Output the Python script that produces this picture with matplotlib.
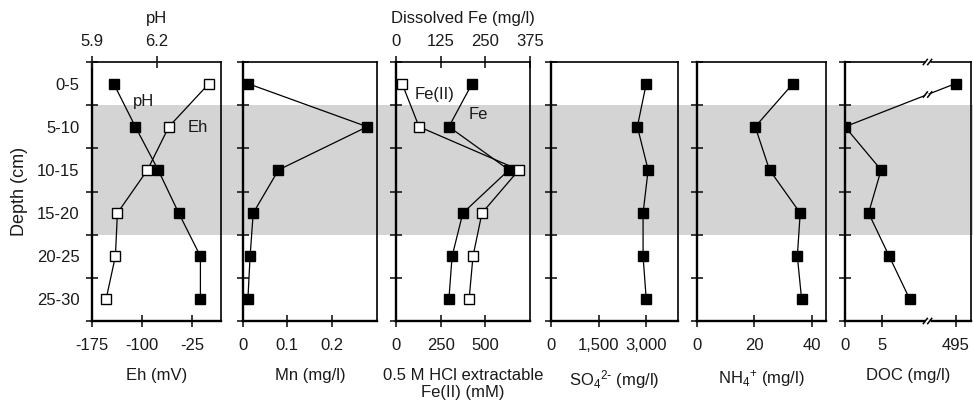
import numpy as np
import matplotlib.pyplot as plt
from matplotlib.patches import Rectangle
from matplotlib.ticker import FixedLocator, FuncFormatter, NullFormatter
import matplotlib.transforms as mtransforms

plt.rcParams['font.family'] = ['Liberation Sans', 'DejaVu Sans']
plt.rcParams['font.size'] = 12
plt.rcParams['text.color'] = '#1a1a1a'
plt.rcParams['xtick.color'] = '#1a1a1a'
plt.rcParams['ytick.color'] = '#1a1a1a'
plt.rcParams['axes.labelcolor'] = '#1a1a1a'
plt.rcParams['mathtext.default'] = 'regular'

# depth intervals (cm)
depth_top = np.array([0, 5, 10, 15, 20, 25])
depth_labels = ['0-5', '5-10', '10-15', '15-20', '20-25', '25-30']
depth_mid = depth_top + 2.5
shade_from, shade_to = 5, 20

ph = [6.00, 6.10, 6.205, 6.30, 6.40, 6.40]
eh = [0, -60, -92, -137, -140, -154]
mn = [0.011, 0.28, 0.08, 0.023, 0.016, 0.011]
fe_ii_hcl = [34, 129, 688, 481, 431, 409]
fe_diss = [213, 148, 316, 187, 157, 148]
so4 = [3000, 2720, 3060, 2900, 2900, 3000]
nh4 = [33.5, 20.3, 25.3, 36.0, 35.0, 36.5]
doc = [495, 0, 4.9, 3.2, 6.0, 8.8]

W, H = 973, 407
fig = plt.figure(figsize=(W / 100, H / 100), dpi=100)

top_px, bot_px = 62, 321
panels_px = [(92, 221), (243, 377), (396, 530), (551, 678), (697, 826), (845, 971)]

fmt = FuncFormatter(lambda v, p: f"{v:g}")
fmt_comma = FuncFormatter(lambda v, p: f"{v:,.0f}")
XLPAD = 11


def make_ax(x0, x1):
    ax = fig.add_axes([x0 / W, 1 - bot_px / H, (x1 - x0) / W, (bot_px - top_px) / H])
    ax.set_facecolor('none')
    ax.set_ylim(30, 0)
    ax.yaxis.set_major_locator(FixedLocator(np.arange(0, 31, 5)))
    ax.yaxis.set_major_formatter(NullFormatter())
    ax.tick_params(axis='both', which='major', direction='inout', length=8, width=1.2,
                   top=False, right=False, labelsize=12, pad=8)
    for s in ['left', 'bottom']:
        ax.spines[s].set_linewidth(1.7)
    for s in ['top', 'right']:
        ax.spines[s].set_linewidth(1.2)
    return ax


def make_twin(ax):
    t = ax.twiny()
    t.set_facecolor('none')
    for s in t.spines.values():
        s.set_visible(False)
    t.tick_params(axis='x', direction='inout', length=8, width=1.2, labelsize=12, pad=5)
    return t


line_kw = dict(color='black', lw=0.9)
filled = dict(marker='s', ms=6.6, mfc='black', mec='black', mew=1)
opened = dict(marker='s', ms=6.6, mfc='white', mec='black', mew=1)

axes = [make_ax(a, b) for a, b in panels_px]

# shading across all panels
ax1 = axes[0]
tr = mtransforms.blended_transform_factory(fig.transFigure, ax1.transData)
fig.add_artist(Rectangle((panels_px[0][0] / W, shade_from), 1.0, shade_to - shade_from,
                         transform=tr, facecolor='#d4d4d4', edgecolor='none', zorder=-1))

# panel 1: Eh (bottom) & pH (top)
ax1.set_xlim(-175, 18)
ax1.set_xticks([-175, -100, -25])
ax1.xaxis.set_major_formatter(fmt)
ax1.plot(eh, depth_mid, **line_kw, **opened)
ax1.set_xlabel('Eh (mV)', labelpad=XLPAD)
ax1.yaxis.set_minor_locator(FixedLocator(depth_mid))
ax1.yaxis.set_minor_formatter(FuncFormatter(lambda v, p: depth_labels[int(v // 5)]))
ax1.tick_params(axis='y', which='minor', length=0, labelsize=12, pad=9)
ax1.set_ylabel('Depth (cm)', fontsize=13, labelpad=6)
ax1.text(-98, 4.6, 'pH', ha='center', va='center', fontsize=12)
ax1.text(-17, 7.6, 'Eh', ha='center', va='center', fontsize=12)
ax1t = make_twin(ax1)
ax1t.set_xlim(5.9, 6.495)
ax1t.set_xticks([5.9, 6.2])
ax1t.xaxis.set_major_formatter(fmt)
ax1t.plot(ph, depth_mid, **line_kw, **filled)
ax1t.set_xlabel('pH', labelpad=8)

# panel 2: Mn
ax2 = axes[1]
ax2.set_xlim(0, 0.302)
ax2.set_xticks([0, 0.1, 0.2])
ax2.xaxis.set_major_formatter(fmt)
ax2.plot(mn, depth_mid, **line_kw, **filled)
ax2.set_xlabel('Mn (mg/l)', labelpad=XLPAD)

# panel 3: HCl Fe(II) (bottom) & dissolved Fe (top)
ax3 = axes[2]
ax3.set_xlim(0, 750)
ax3.set_xticks([0, 250, 500])
ax3.xaxis.set_major_formatter(fmt)
ax3.set_xlabel('0.5 M HCl extractable\nFe(II) (mM)', labelpad=XLPAD, linespacing=1.15)
ax3t = make_twin(ax3)
ax3t.set_xlim(0, 375)
ax3t.set_xticks([0, 125, 250, 375])
ax3t.xaxis.set_major_formatter(fmt)
ax3t.plot(fe_diss, depth_mid, **line_kw, **filled)
ax3t.set_xlabel('Dissolved Fe (mg/l)', labelpad=8)
ax3.set_zorder(ax3t.get_zorder() + 1)
ax3.plot(fe_ii_hcl, depth_mid, **line_kw, **opened)
ax3.text(218, 3.8, 'Fe(II)', ha='center', va='center', fontsize=12)
ax3.text(459, 6.1, 'Fe', ha='center', va='center', fontsize=12)

# panel 4: SO4
ax4 = axes[3]
ax4.set_xlim(0, 4000)
ax4.set_xticks([0, 1500, 3000])
ax4.xaxis.set_major_formatter(fmt_comma)
ax4.plot(so4, depth_mid, **line_kw, **filled)
ax4.set_xlabel(r'SO$_4$$^{2\text{-}}$ (mg/l)', labelpad=XLPAD)

# panel 5: NH4
ax5 = axes[4]
ax5.set_xlim(0, 45)
ax5.set_xticks([0, 20, 40])
ax5.xaxis.set_major_formatter(fmt)
ax5.plot(nh4, depth_mid, **line_kw, **filled)
ax5.set_xlabel('NH$_4$$^{+}$ (mg/l)', labelpad=XLPAD)

# panel 6: DOC with broken axis
ax6 = axes[5]
brk_lo, brk_hi = 11.2, 491.3
src = [-100, brk_lo, brk_hi, 1000]
dst = [-100, brk_lo, brk_lo + 0.1, brk_lo + 0.1 + (1000 - brk_hi)]
ax6.set_xscale('function', functions=(lambda x: np.interp(x, src, dst),
                                      lambda y: np.interp(y, dst, src)))
ax6.set_xlim(0, 497.1)
ax6.set_xticks([0, 5, 495])
ax6.xaxis.set_major_formatter(fmt)
ax6.xaxis.set_minor_locator(FixedLocator([]))
ax6.plot(doc, depth_mid, **line_kw, **filled)
ax6.set_xlabel('DOC (mg/l)', labelpad=XLPAD)


def slash_mark(ax, xa, ya):
    dx, dy = 4 / 126, 2.6 / 259
    gap = 2.2 / 126
    ax.plot([xa - gap, xa + gap], [ya, ya], transform=ax.transAxes, color='white',
            lw=2.5, clip_on=False, zorder=5, solid_capstyle='butt')
    for off in (-gap, gap):
        ax.plot([xa + off - dx / 2, xa + off + dx / 2], [ya - dy, ya + dy],
                transform=ax.transAxes, color='black', lw=1.1, clip_on=False, zorder=6)


lo, hi = ax6.get_xlim()
fwd = lambda x: np.interp(x, src, dst)
xb = (fwd(brk_lo + 0.05) - fwd(lo)) / (fwd(hi) - fwd(lo))
slash_mark(ax6, xb, 1.0)
slash_mark(ax6, xb, 0.0)
# break on the data line between the first two points
to_ax = ax6.transAxes.inverted()
p0 = to_ax.transform(ax6.transData.transform((doc[0], depth_mid[0])))
p1 = to_ax.transform(ax6.transData.transform((doc[1], depth_mid[1])))
yb = p0[1] + (xb - p0[0]) * (p1[1] - p0[1]) / (p1[0] - p0[0])
slash_mark(ax6, xb, yb)

fig.savefig('out.png', dpi=100)
